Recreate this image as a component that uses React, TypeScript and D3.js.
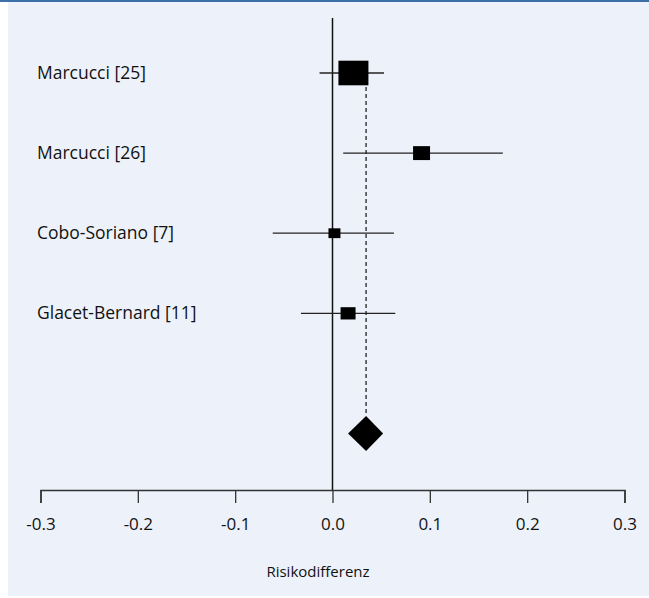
import React, { useEffect, useRef } from "react";
import * as d3 from "d3";

// Studies (top to bottom)
const studies = ["Marcucci [25]", "Marcucci [26]", "Cobo-Soriano [7]", "Glacet-Bernard [11]"];
const estimates = [0.0215, 0.0915, 0.002, 0.016];
const lower = [-0.0133, 0.011, -0.0614, -0.0324];
const upper = [0.0529, 0.175, 0.0631, 0.0645];
const weights = [57.8, 18.5, 9.2, 14.4];

// Pooled estimate
const pooled = { est: 0.0345, lo: 0.016, hi: 0.052 };

const xTicks = [-0.3, -0.2, -0.1, 0.0, 0.1, 0.2, 0.3];
const xLabel = "Risikodifferenz";

export default function App() {
  const svgRef = useRef<SVGSVGElement>(null);

  useEffect(() => {
    const width = 649;
    const height = 598;
    const font = "'Open Sans', 'Noto Sans', sans-serif";

    const svg = d3.select(svgRef.current);
    svg.selectAll("*").remove();
    svg.attr("width", width).attr("height", height);

    // background panel + top rule
    svg.append("rect").attr("x", 0).attr("y", 0).attr("width", width).attr("height", height).attr("fill", "#fff");
    svg.append("rect").attr("x", 8).attr("y", 0).attr("width", width - 8).attr("height", 596).attr("fill", "#edf1fa");
    svg.append("rect").attr("x", 0).attr("y", 0).attr("width", width).attr("height", 2).attr("fill", "#3d6fa8");

    const x = d3.scaleLinear().domain([-0.3, 0.3]).range([40.5, 624.5]);
    // row index -> y; pooled row sits 1.5 rows below the last study
    const y = d3.scaleLinear().domain([0, 4.5]).range([73, 433.5]);
    const size = d3.scaleSqrt().domain([0, 57.8]).range([0, 30]);

    const axisY = 490;

    // zero line
    svg.append("line")
      .attr("x1", x(0)).attr("x2", x(0))
      .attr("y1", 18).attr("y2", axisY)
      .attr("stroke", "#111").attr("stroke-width", 1.5);

    // dashed pooled line
    svg.append("line")
      .attr("x1", x(pooled.est)).attr("x2", x(pooled.est))
      .attr("y1", y(0)).attr("y2", y(4.5) - 17.5)
      .attr("stroke", "#111").attr("stroke-width", 1.2)
      .attr("stroke-dasharray", "4,3");

    const rows = studies.map((name, i) => ({
      name, est: estimates[i], lo: lower[i], hi: upper[i], w: weights[i], i,
    }));

    const g = svg.append("g");

    // confidence intervals
    g.selectAll(".ci")
      .data(rows)
      .enter().append("line")
      .attr("x1", d => x(d.lo)).attr("x2", d => x(d.hi))
      .attr("y1", d => y(d.i)).attr("y2", d => y(d.i))
      .attr("stroke", "#222").attr("stroke-width", 1.3);

    // weight boxes
    g.selectAll(".box")
      .data(rows)
      .enter().append("rect")
      .attr("x", d => x(d.est) - size(d.w) / 2)
      .attr("y", d => y(d.i) - (size(d.w) * 0.82) / 2)
      .attr("width", d => size(d.w))
      .attr("height", d => size(d.w) * 0.82)
      .attr("fill", "#000");

    // study labels
    g.selectAll(".label")
      .data(rows)
      .enter().append("text")
      .attr("x", 37)
      .attr("y", d => y(d.i) + 6)
      .attr("font-family", font)
      .attr("font-size", 17.5)
      .attr("fill", "#111")
      .text(d => d.name);

    // pooled diamond
    const py = y(4.5);
    const hh = 17.5;
    svg.append("path")
      .attr("d", `M${x(pooled.lo)},${py} L${x(pooled.est)},${py - hh} L${x(pooled.hi)},${py} L${x(pooled.est)},${py + hh} Z`)
      .attr("fill", "#000");

    // x axis (plain hyphen for negatives)
    const axis = svg.append("g")
      .attr("transform", `translate(0,${axisY})`)
      .call(d3.axisBottom(x).tickValues(xTicks).tickSize(13).tickPadding(15)
        .tickFormat(d => (d as number).toFixed(1)));
    axis.select(".domain").attr("stroke", "#333").attr("stroke-width", 1.5);
    axis.selectAll(".tick line").attr("stroke", "#333").attr("stroke-width", 1.3);
    axis.selectAll(".tick text")
      .attr("font-family", font)
      .attr("font-size", 17)
      .attr("fill", "#111");

    svg.append("text")
      .attr("x", 318)
      .attr("y", 577)
      .attr("text-anchor", "middle")
      .attr("font-family", font)
      .attr("font-size", 15)
      .attr("fill", "#111")
      .text(xLabel);
  }, []);

  return (
    <div style={{ position: "absolute", left: 0, top: 0 }}>
      <svg ref={svgRef} style={{ display: "block" }}></svg>
    </div>
  );
}
